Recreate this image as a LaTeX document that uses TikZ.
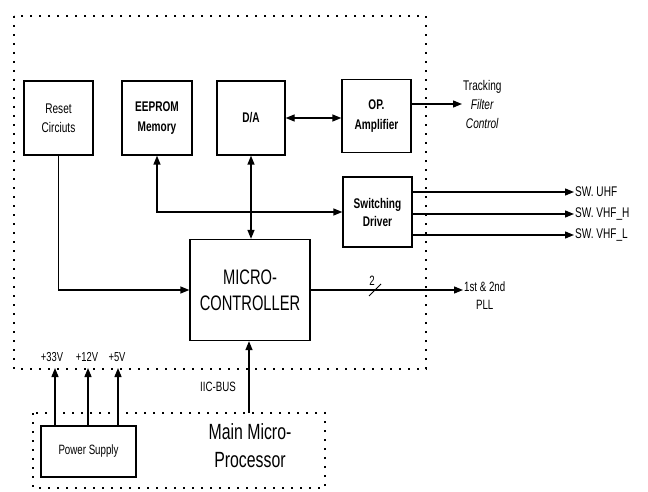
\documentclass[tikz,border=0pt]{standalone}
\usepackage{fontspec}
\setmainfont{Liberation Sans}[FakeStretch=0.72]
\newfontfamily\narrowfont{Liberation Sans}[FakeStretch=0.7]
\usetikzlibrary{arrows.meta}
\begin{document}
\begin{tikzpicture}[x=1pt,y=-1pt,
  blk/.style={draw, line width=1.3pt, align=center, inner sep=0pt},
  sm/.style={font=\fontsize{14}{19}\selectfont, align=center, inner sep=1pt},
  bsm/.style={font=\fontsize{14}{20}\selectfont\bfseries},
  arr/.style={line width=1.3pt, -{Triangle[length=9pt,width=7pt]}},
  darr/.style={line width=1.3pt, {Triangle[length=9pt,width=7pt]}-{Triangle[length=9pt,width=7pt]}},
  dots/.style={line width=2pt, dash pattern=on 2pt off 7pt}]
\useasboundingbox (0,0) rectangle (648,492);
% dotted frames
\draw[dots] (14,16) rectangle (426,369);
\draw[dots] (33,413) rectangle (325,488);
% blocks
\node[blk, minimum width=69pt, minimum height=74pt, font=\fontsize{14}{19}\selectfont] (reset) at (58.5,118) {Reset\\Circiuts};
\node[blk, minimum width=70pt, minimum height=74pt, bsm] (eeprom) at (157,118) {EEPROM\\Memory};
\node[blk, minimum width=68pt, minimum height=74pt, bsm] (da) at (251,118) {D/A};
\node[blk, minimum width=69pt, minimum height=73pt, bsm] (op) at (376.5,116) {OP.\\Amplifier};
\node[blk, minimum width=69pt, minimum height=70pt, font=\fontsize{14}{18}\selectfont\bfseries] (sw) at (377.5,212) {Switching\\Driver};
\node[blk, minimum width=120pt, minimum height=101pt, font=\narrowfont\fontsize{21}{26}\selectfont] (mc) at (250,290) {MICRO-\\CONTROLLER};
\node[blk, minimum width=95pt, minimum height=51pt, font=\fontsize{13.5}{15}\selectfont] (ps) at (88.5,451.5) {Power Supply};
% labels
\node[sm, anchor=west] (trk) at (462,104) {Tracking\\\textit{Filter}\\\textit{Control}};
\node[sm, anchor=west] (uhf) at (574,192) {SW. UHF};
\node[sm, anchor=west] (vhfh) at (574,214) {SW. VHF\_H};
\node[sm, anchor=west] (vhfl) at (574,235) {SW. VHF\_L};
\node[sm, anchor=west, font=\fontsize{13.5}{18}\selectfont] (pll) at (463,296) {1st \& 2nd\\PLL};
\node[sm, font=\fontsize{13.5}{15}\selectfont] (two) at (372,281) {2};
\node[sm, font=\fontsize{13.5}{15}\selectfont] (iiclbl) at (218,387) {IIC-BUS};
\node[align=center, inner sep=0pt, font=\fontsize{22}{28}\selectfont] (mmp) at (250,446) {Main Micro-\\Processor};
\node[sm, font=\fontsize{13}{14}\selectfont] (l33) at (52,357) {+33V};
\node[sm, font=\fontsize{13}{14}\selectfont] (l12) at (87,357) {+12V};
\node[sm, font=\fontsize{13}{14}\selectfont] (l5) at (117,357) {+5V};
\coordinate (t33) at (55,368);
\coordinate (t12) at (88,368);
\coordinate (t5) at (118,368);
\coordinate (iic) at (249,413);
\coordinate (slA) at (369,296);
\coordinate (slB) at (381,284);
% connectors
\draw[darr] (da.east) -- (da.east -| op.west);
\draw[arr] (op.east |- trk.west) -- (trk.west);
\draw[darr] (eeprom.south) |- (sw.west);
\draw[darr] (da.south) -- (da.south |- mc.north);
\draw[arr] (reset.south) |- (mc.west);
\draw[arr] (sw.east |- uhf.west) -- (uhf.west);
\draw[arr] (sw.east |- vhfh.west) -- (vhfh.west);
\draw[arr] (sw.east |- vhfl.west) -- (vhfl.west);
\draw[arr] (mc.east) -- (mc.east -| pll.west);
\draw[line width=1pt] (slA) -- (slB);
\draw[arr] (iic) -- (iic |- mc.south);
\draw[arr] (ps.north -| t33) -- (t33);
\draw[arr] (ps.north -| t12) -- (t12);
\draw[arr] (ps.north -| t5) -- (t5);
\end{tikzpicture}
\end{document}
